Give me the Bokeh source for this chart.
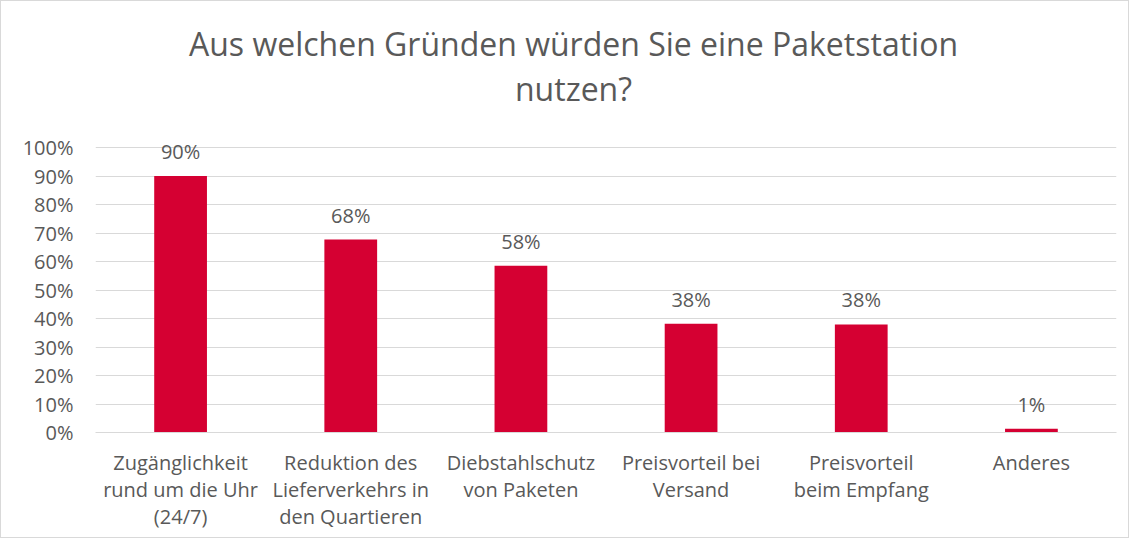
from bokeh.plotting import figure
from bokeh.models import ColumnDataSource, NumeralTickFormatter, FixedTicker, Range1d, FactorRange, Label
from bokeh.core.properties import value
from bokeh.embed import file_html
from bokeh.resources import INLINE

title_lines = ["Aus welchen Gründen würden Sie eine Paketstation", "nutzen?"]
categories = [
    "Zugänglichkeit\nrund um die Uhr\n(24/7)",
    "Reduktion des\nLieferverkehrs in\nden Quartieren",
    "Diebstahlschutz\nvon Paketen",
    "Preisvorteil bei\nVersand",
    "Preisvorteil\nbeim Empfang",
    "Anderes",
]
values = [0.90, 0.677, 0.585, 0.382, 0.379, 0.013]
labels = [f"{round(v * 100)}%" for v in values]
y_ticks = [i / 10 for i in range(11)]

FONT = "Open Sans"
TEXT = "#595959"
GRID = "#d9d9d9"
RED = "#d50032"

src = ColumnDataSource(dict(cat=categories, val=values, lab=labels))

# frame extends to the top of the canvas so the title lines can sit inside it;
# only 0–100 % is gridded/labelled
p = figure(
    x_range=FactorRange(*categories),
    y_range=Range1d(0, 431 / 285),
    width=1129, height=538,
    output_backend="svg", toolbar_location=None,
    min_border_left=94, min_border_right=14, min_border_top=0, min_border_bottom=107,
)
p.styles = {"border": "1px solid #d9d9d9"}
p.outline_line_color = None
p.background_fill_color = "white"

for line, ty in zip(title_lines, [389, 344]):
    p.add_layout(Label(
        x=478, y=ty, x_units="screen", y_units="screen", text=line,
        text_align="center", text_baseline="alphabetic",
        text_font=FONT, text_font_size="32px", text_color=TEXT,
    ))

p.vbar(x="cat", top="val", width=0.31, source=src, color=RED, line_color=None)
p.text(x="cat", y="val", text="lab", source=src, text_align="center", text_baseline="bottom",
       y_offset=-11, text_font=value(FONT), text_font_size="20px", text_color=TEXT)

p.xgrid.grid_line_color = None
p.ygrid.grid_line_color = GRID
p.ygrid.ticker = FixedTicker(ticks=y_ticks)

p.yaxis.ticker = FixedTicker(ticks=y_ticks)
p.yaxis.formatter = NumeralTickFormatter(format="0%")
p.yaxis.axis_line_color = None
p.yaxis.major_tick_line_color = None
p.yaxis.minor_tick_line_color = None
p.yaxis.major_tick_out = 0
p.yaxis.minor_tick_out = 0
p.yaxis.major_label_standoff = 22
p.yaxis.major_label_text_font = FONT
p.yaxis.major_label_text_font_size = "20px"
p.yaxis.major_label_text_color = TEXT

p.xaxis.axis_line_color = GRID
p.xaxis.major_tick_line_color = None
p.xaxis.minor_tick_line_color = None
p.xaxis.major_tick_out = 0
p.xaxis.minor_tick_out = 0
p.xaxis.major_label_standoff = 16
p.xaxis.major_label_text_font = FONT
p.xaxis.major_label_text_font_size = "20px"
p.xaxis.major_label_text_color = TEXT
p.xaxis.major_label_text_line_height = 1.0

open("out.html", "w").write(file_html(p, INLINE))
